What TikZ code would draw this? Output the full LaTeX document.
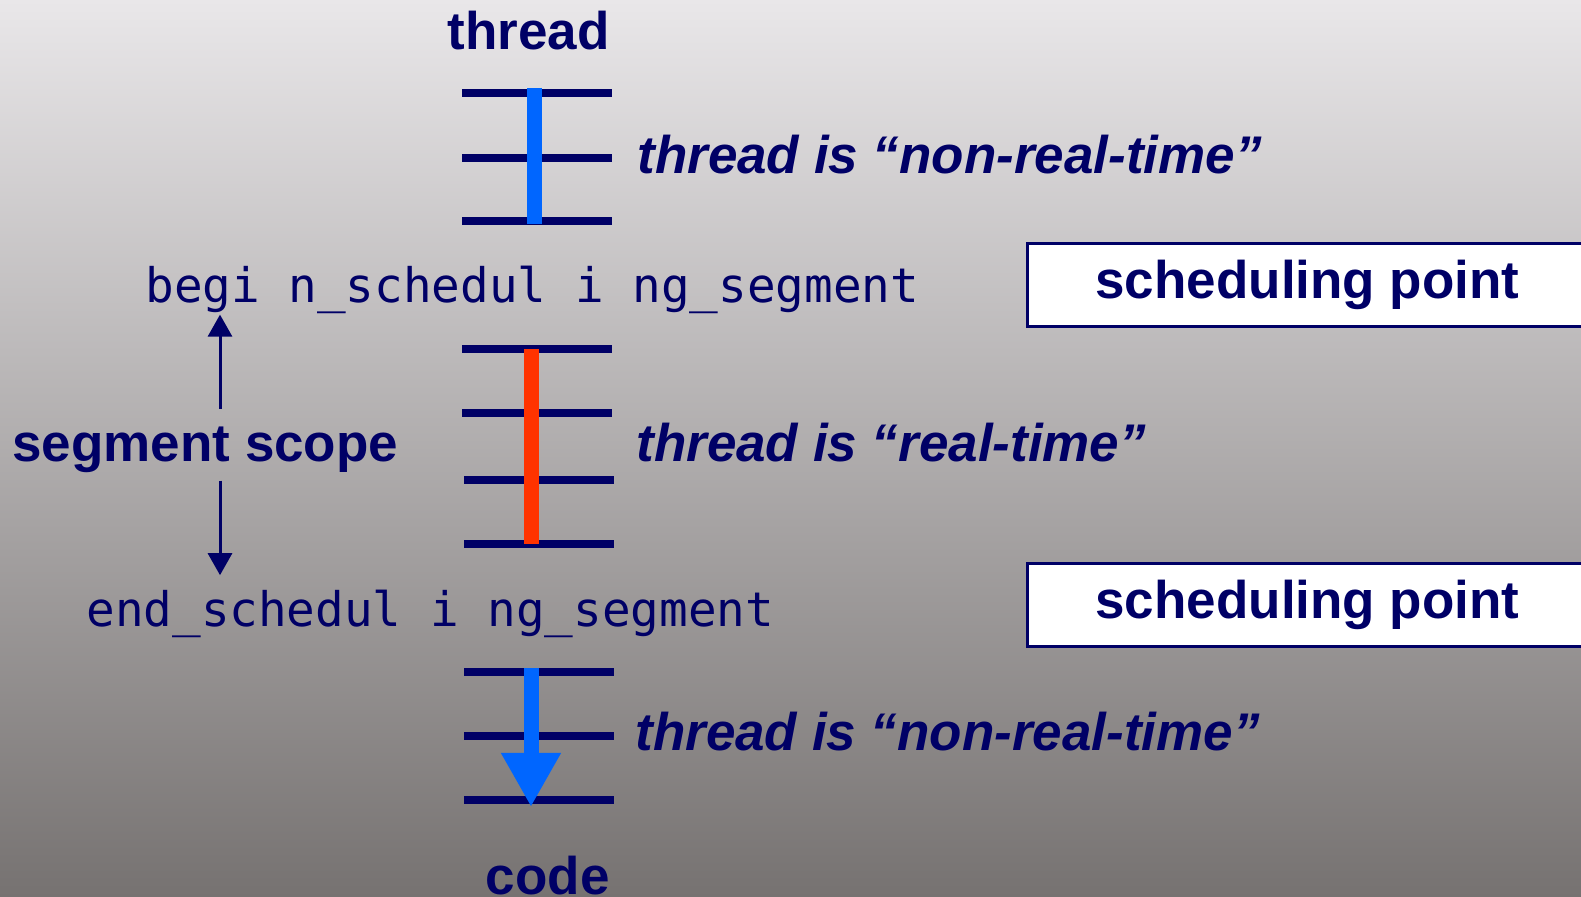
\documentclass[tikz,border=0pt]{standalone}
\usepackage{fontspec}
\setmainfont{Liberation Sans}
\newfontfamily\apifont{DejaVu Sans Mono}
\usepackage{tikz}
\usetikzlibrary{arrows.meta}

\definecolor{navy}{HTML}{000066}
\definecolor{rtblue}{HTML}{0066FF}
\definecolor{rtred}{HTML}{FF3300}
\definecolor{bgtop}{HTML}{E9E7E9}
\definecolor{bgbot}{HTML}{767271}

\begin{document}
\begin{tikzpicture}[x=0.5pt,y=-0.5pt,
  lbl/.style={text=navy,inner sep=0pt,font=\fontsize{26.5pt}{30pt}\selectfont\bfseries},
  state/.style={lbl,font=\fontsize{26.5pt}{30pt}\selectfont\bfseries\itshape},
  api/.style={text=navy,inner sep=0pt,font=\fontsize{23.8pt}{28pt}\selectfont\apifont},
  sptbox/.style={lbl,draw=navy,line width=1.5pt,fill=white,minimum width=280pt,minimum height=41.5pt,anchor=north west},
  rung/.style={navy,line width=4pt},
  segbar/.style={line width=7.5pt},
  scopearrow/.style={navy,line width=1.5pt,-{Triangle[length=11pt,width=12pt]}},
  bigarrow/.style={rtblue,line width=7.5pt,-{Triangle[length=27pt,width=28pt]}}]
\useasboundingbox (0,0) rectangle (1581,897);
\shade[top color=bgtop,bottom color=bgbot] (0,0) rectangle (1581,897);
\clip (0,0) rectangle (1581,897);
% ladders
\foreach \y/\xl/\xr in %
{93/462/612,158/462/612,221/462/612,349/462/612,413/462/612,480/464/614,544/464/614,672/464/614,736/464/614,800/464/614} {
   \draw[rung] (\xl,\y) -- (\xr,\y);
}
\draw[segbar,rtblue] (534,88) -- (534,224);
\draw[segbar,rtred] (531,349) -- (531,544);
\draw[bigarrow] (531,668) -- (531,807);
% labels
\node[lbl,anchor=base east] (thread) at (610,50) {thread};
\node[lbl,anchor=base east] (code) at (610,894) {code};
\node[state,anchor=base west] (nrt1) at (637,174) {thread is “non-real-time”};
\node[state,anchor=base west] (rt) at (636,462) {thread is “real-time”};
\node[state,anchor=base west] (nrt2) at (635,751) {thread is “non-real-time”};
\node[api,anchor=base west] (begin) at (145,303) {begi n\_schedul i ng\_segment};
\node[api,anchor=base west] (end) at (86,627) {end\_schedul i ng\_segment};
\node[lbl,anchor=base west] (scope) at (12,462) {segment scope};
\node[sptbox] (sp1) at (1026,242) {scheduling point};
\node[sptbox] (sp2) at (1026,562) {scheduling point};
% segment scope
\coordinate (sx) at (220,0);
\draw[scopearrow,shorten <=9pt] (scope.north -| sx) -- (begin.south -| sx);
\draw[scopearrow,shorten <=3.5pt,shorten >=7.5pt] (scope.south -| sx) -- (end.north -| sx);
\end{tikzpicture}
\end{document}
